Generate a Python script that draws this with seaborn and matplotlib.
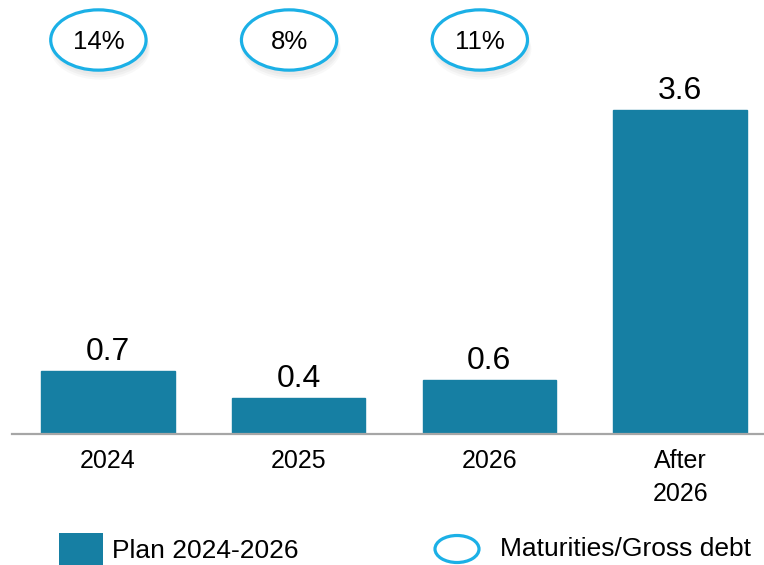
import matplotlib
matplotlib.use("Agg")
import matplotlib.pyplot as plt
import matplotlib.patches as patches
import seaborn as sns
import pandas as pd

# data
categories = ["2024", "2025", "2026", "After\n2026"]
plan_values = [0.7, 0.4, 0.6, 3.6]
ratio_labels = ["14%", "8%", "11%"]

bar_color = "#167fa3"
ring_color = "#1bb0e6"

sns.set_theme(style="white")
plt.rcParams["font.family"] = ["Liberation Sans", "DejaVu Sans"]

fig = plt.figure(figsize=(7.64, 5.65), dpi=100)
# axes in pixel terms: left 12, right 764, baseline at y=434
ax = fig.add_axes([12 / 764, (565 - 434) / 565, 752 / 764, 434 / 565])

df = pd.DataFrame({"period": categories, "value": plan_values})
sns.barplot(data=df, x="period", y="value", color=bar_color, saturation=1,
            width=0.7, ax=ax)

for p in ax.patches:
    p.set_edgecolor(bar_color)

ax.bar_label(ax.containers[0], labels=[f"{v:.1f}" for v in plan_values],
             padding=3, fontsize=23, color="black")

ax.set_xlim(-0.503, 3.44)
ax.set_ylim(0, 434 / 90)
ax.set_xlabel("")
ax.set_ylabel("")
ax.set_yticks([])
ax.tick_params(axis="x", length=0, pad=11, labelsize=18, colors="black")
for t in ax.get_xticklabels():
    t.set_linespacing(1.45)
for s in ["top", "left", "right"]:
    ax.spines[s].set_visible(False)
ax.spines["bottom"].set_color("#a6a6a6")
ax.spines["bottom"].set_linewidth(1.6)

# percentage bubbles above the first three bars
ell_y = (434 - 40) / 90
for i, lab in enumerate(ratio_labels):
    xc = i - 0.05
    for k, a in enumerate([0.06, 0.06, 0.05]):
        sh = patches.Ellipse((xc + 0.01, ell_y - 0.06 - 0.02 * k), 0.50 + 0.01 * k,
                             0.66 + 0.01 * k, facecolor="#7f7f7f", edgecolor="none",
                             alpha=a, clip_on=False)
        ax.add_patch(sh)
    e = patches.Ellipse((xc, ell_y), 0.50, 0.67, facecolor="white",
                        edgecolor=ring_color, linewidth=2.3, clip_on=False, zorder=5)
    ax.add_patch(e)
    ax.text(xc, ell_y - 0.02, lab, ha="center", va="center", fontsize=18.5,
            color="black", zorder=6)

# legend drawn in figure space
fig.add_artist(patches.Rectangle((59 / 764, 0), 44 / 764, 32 / 565,
                                 transform=fig.transFigure, facecolor=bar_color,
                                 edgecolor="none"))
fig.text(112 / 764, (565 - 551) / 565, "Plan 2024-2026", fontsize=19,
         va="center", ha="left", color="black")
fig.add_artist(patches.Ellipse((457 / 764, (565 - 549) / 565), 44 / 764, 27 / 565,
                               transform=fig.transFigure, facecolor="white",
                               edgecolor=ring_color, linewidth=2.3))
fig.text(500 / 764, (565 - 549) / 565, "Maturities/Gross debt", fontsize=19,
         va="center", ha="left", color="black")

fig.savefig("out.png", dpi=100)
